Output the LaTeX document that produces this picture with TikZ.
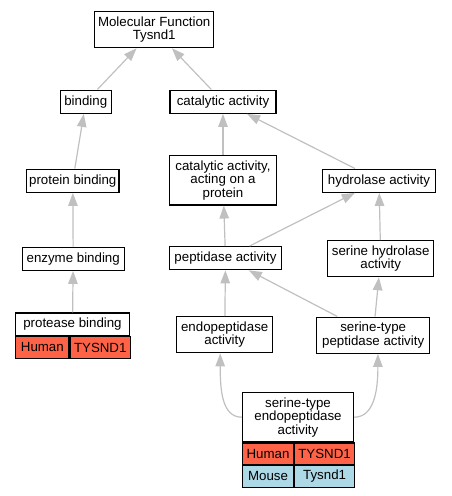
\documentclass[tikz,border=0pt]{standalone}
\usepackage{fontspec}
\setmainfont{Liberation Sans}
\usepackage{tikz}
\usetikzlibrary{arrows.meta}
\definecolor{goTomato}{HTML}{FF6347}
\definecolor{goBlue}{HTML}{ADD8E6}
\definecolor{goGray}{HTML}{C0C0C0}
\tikzstyle{gTerm} = [rectangle, draw=black, line width=1.1pt, fill=white, align=center, inner sep=0pt, minimum height=23.3pt, font=\fontsize{13.3}{13.5}\selectfont]
\tikzstyle{gCell} = [gTerm, minimum height=21.4pt, anchor=north west]
\tikzstyle{gHuman} = [gCell, fill=goTomato]
\tikzstyle{gMouse} = [gCell, fill=goBlue]
\tikzstyle{gArrow} = [color=goGray, line width=1.2pt, -{Triangle[length=13pt,width=9.5pt]}]

\begin{document}
\begin{tikzpicture}[node distance=78pt]
    \useasboundingbox (0,0) rectangle (451pt,-496pt);
    \node (mf) [gTerm, minimum width=119pt, minimum height=36pt] at (154.2pt,-29.7pt) {Molecular Function\\Tysnd1};
    \node (binding) [gTerm, minimum width=51pt, below of=mf, xshift=-68.4pt, yshift=6pt] {binding};
    \node (catalytic) [gTerm, minimum width=106pt, below of=mf, xshift=68.8pt, yshift=6pt] {catalytic activity};
    \node (protbind) [gTerm, minimum width=92.3pt, below of=binding, xshift=-13pt, yshift=-1pt] {protein binding};
    \node (catprot) [gTerm, minimum width=107.7pt, minimum height=49.6pt, below of=catalytic, yshift=-0.5pt] {catalytic activity,\\acting on a\\protein};
    \node (hydro) [gTerm, minimum width=113pt, right of=catprot, xshift=78pt, yshift=-0.5pt] {hydrolase activity};
    \node (enzbind) [gTerm, minimum width=101.7pt, below of=protbind, xshift=0.4pt] {enzyme binding};
    \node (peptidase) [gTerm, minimum width=112.7pt, below of=catprot, xshift=2.5pt] {peptidase activity};
    \node (serhydro) [gTerm, minimum width=105.6pt, minimum height=36pt, below of=hydro, xshift=1.7pt] {serine hydrolase\\activity};
    \node (protease) [gTerm, minimum width=113.6pt, minimum height=22.7pt, below of=enzbind, xshift=-0.7pt, yshift=12.4pt] {protease binding};
    \node (protHuman) [gHuman, minimum width=53.3pt] at (protease.south west) {Human};
    \node (protHumanGene) [gHuman, minimum width=60.3pt] at (protHuman.north east) {TYSND1};
    \node (endo) [gTerm, minimum width=95.6pt, minimum height=36.3pt, below of=peptidase, xshift=-0.8pt, yshift=1.5pt] {endopeptidase\\activity};
    \node (stpep) [gTerm, minimum width=112.6pt, minimum height=36.3pt, below of=serhydro, xshift=-7.5pt, yshift=1.5pt] {serine-type\\peptidase activity};
    \node (setype) [gTerm, minimum width=111pt, minimum height=49.3pt, below of=endo, xshift=73.3pt, yshift=-4.5pt] {serine-type\\endopeptidase\\activity};
    \node (setHuman) [gHuman, minimum width=51pt] at (setype.south west) {Human};
    \node (setHumanGene) [gHuman, minimum width=60pt] at (setHuman.north east) {TYSND1};
    \node (setMouse) [gMouse, minimum width=51pt, minimum height=21.6pt] at (setHuman.south west) {Mouse};
    \node (setMouseGene) [gMouse, minimum width=60pt, minimum height=21.6pt] at (setMouse.north east) {Tysnd1};

    \draw [gArrow] (binding) -- (mf);
    \draw [gArrow] (catalytic) -- (mf);
    \draw [gArrow] (protbind) -- (binding);
    \draw [gArrow] (catprot) -- (catalytic);
    \draw [gArrow] (hydro) -- (catalytic);
    \draw [gArrow] (enzbind) -- (protbind);
    \draw [gArrow] (peptidase) -- (catprot);
    \draw [gArrow] (peptidase) -- (hydro);
    \draw [gArrow] (serhydro) -- (hydro);
    \draw [gArrow] (protease) -- (enzbind);
    \draw [gArrow] (endo) -- (peptidase);
    \draw [gArrow] (stpep) -- (peptidase);
    \draw [gArrow] (stpep) -- (serhydro);
    \draw [gArrow] (setype.west) .. controls +(-20pt,0pt) and +(0pt,-37pt) .. ([xshift=-4.5pt]endo.south);
    \draw [gArrow] (setype.east) .. controls +(20pt,0pt) and +(0pt,-37pt) .. ([xshift=4.7pt]stpep.south);
\end{tikzpicture}
\end{document}
